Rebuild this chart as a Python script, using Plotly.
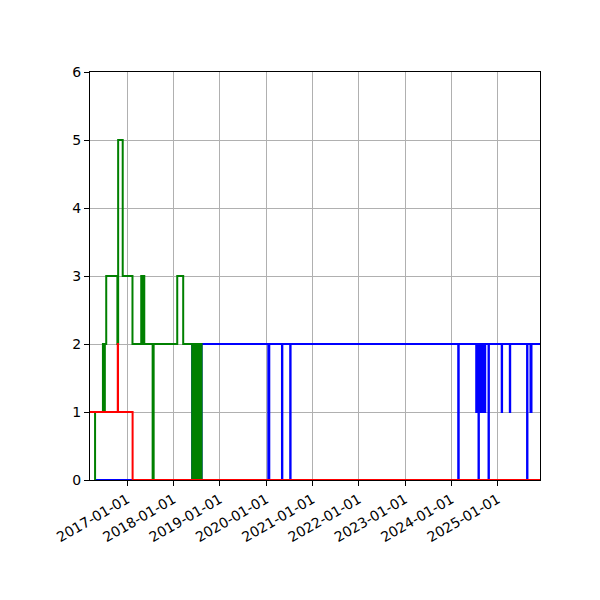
import plotly.graph_objects as go

# step series, each value holds until the next date (steps-post)
blue_dates = [
    "2016-04-29", "2018-05-28", "2018-05-31", "2018-08-10",
    "2020-01-18", "2020-01-26", "2020-05-05", "2020-05-08", "2020-07-09", "2020-07-12",
    "2024-02-24", "2024-02-28", "2024-07-15", "2024-07-18", "2024-08-02", "2024-08-05",
    "2024-08-08", "2024-08-11", "2024-08-14", "2024-08-17", "2024-08-20", "2024-08-24",
    "2024-08-27", "2024-08-31", "2024-09-04", "2024-09-08", "2024-09-11", "2024-09-16",
    "2024-09-20", "2024-09-24", "2024-10-20", "2024-10-23",
    "2025-02-01", "2025-02-04", "2025-04-06", "2025-04-09", "2025-08-20", "2025-08-23",
    "2025-09-16", "2025-09-19", "2025-09-21", "2025-09-24", "2025-11-30",
]
blue_values = [
    0, 2, 0, 2,
    0, 2, 0, 2, 0, 2,
    0, 2, 1, 2, 0, 2,
    1, 2, 1, 2, 1, 2,
    1, 2, 1, 2, 1, 2,
    1, 2, 0, 2,
    1, 2, 1, 2, 0, 2,
    1, 2, 1, 2, 2,
]

green_dates = [
    "2016-04-18", "2016-04-22", "2016-06-23", "2016-06-25", "2016-06-28", "2016-06-30",
    "2016-07-03", "2016-07-05", "2016-07-08", "2016-07-19", "2016-10-15", "2016-10-21",
    "2016-11-26", "2017-02-11", "2017-04-21", "2017-04-25", "2017-04-28", "2017-05-02",
    "2017-05-05", "2017-05-09", "2017-05-11", "2017-05-15", "2017-07-20", "2017-07-28",
    "2018-01-30", "2018-03-18", "2018-05-28", "2018-05-31", "2018-06-04", "2018-06-07",
    "2018-06-11", "2018-06-14", "2018-06-18", "2018-06-21", "2018-06-25", "2018-06-28",
    "2018-07-02", "2018-07-05", "2018-07-09", "2018-07-12", "2018-07-16", "2018-07-21",
    "2018-07-28", "2018-07-31", "2018-08-03", "2018-08-06", "2018-08-10",
]
green_values = [
    0, 1, 2, 1, 2, 1,
    2, 1, 2, 3, 2, 5,
    3, 2, 3, 2, 3, 2,
    3, 2, 3, 2, 0, 2,
    3, 2, 0, 2, 0, 2,
    0, 2, 0, 2, 0, 2,
    0, 2, 0, 2, 0, 2,
    0, 2, 0, 2, 0,
]

red_dates = ["2016-03-13", "2016-10-18", "2016-10-20", "2017-02-12", "2025-11-30"]
red_values = [1, 2, 1, 0, 0]

year_ticks = ["2017-01-01", "2018-01-01", "2019-01-01", "2020-01-01", "2021-01-01",
              "2022-01-01", "2023-01-01", "2024-01-01", "2025-01-01"]

fig = go.Figure()
for d, v, c in [(blue_dates, blue_values, "#0000ff"),
                (green_dates, green_values, "#008000"),
                (red_dates, red_values, "#ff0000")]:
    fig.add_trace(go.Scatter(x=d, y=v, mode="lines", line=dict(color=c, width=2, shape="hv"),
                             showlegend=False))

axis_style = dict(showline=True, mirror=True, linecolor="black", linewidth=1,
                  ticks="outside", ticklen=5, tickcolor="black",
                  showgrid=True, gridcolor="#b0b0b0", gridwidth=1, zeroline=False)

# page body adds an 8px offset, so margins are shifted to compensate
fig.update_layout(
    width=600, height=600,
    margin=dict(l=82, r=68, t=64, b=128),
    plot_bgcolor="white", paper_bgcolor="white",
    font=dict(family="DejaVu Sans", size=14, color="black"),
    xaxis=dict(range=["2016-03-13", "2025-11-30"], tickvals=year_ticks, ticktext=year_ticks,
               tickangle=-30, **axis_style),
    yaxis=dict(range=[0, 6], tickvals=[0, 1, 2, 3, 4, 5, 6], **axis_style),
)

fig.write_html("out.html")
